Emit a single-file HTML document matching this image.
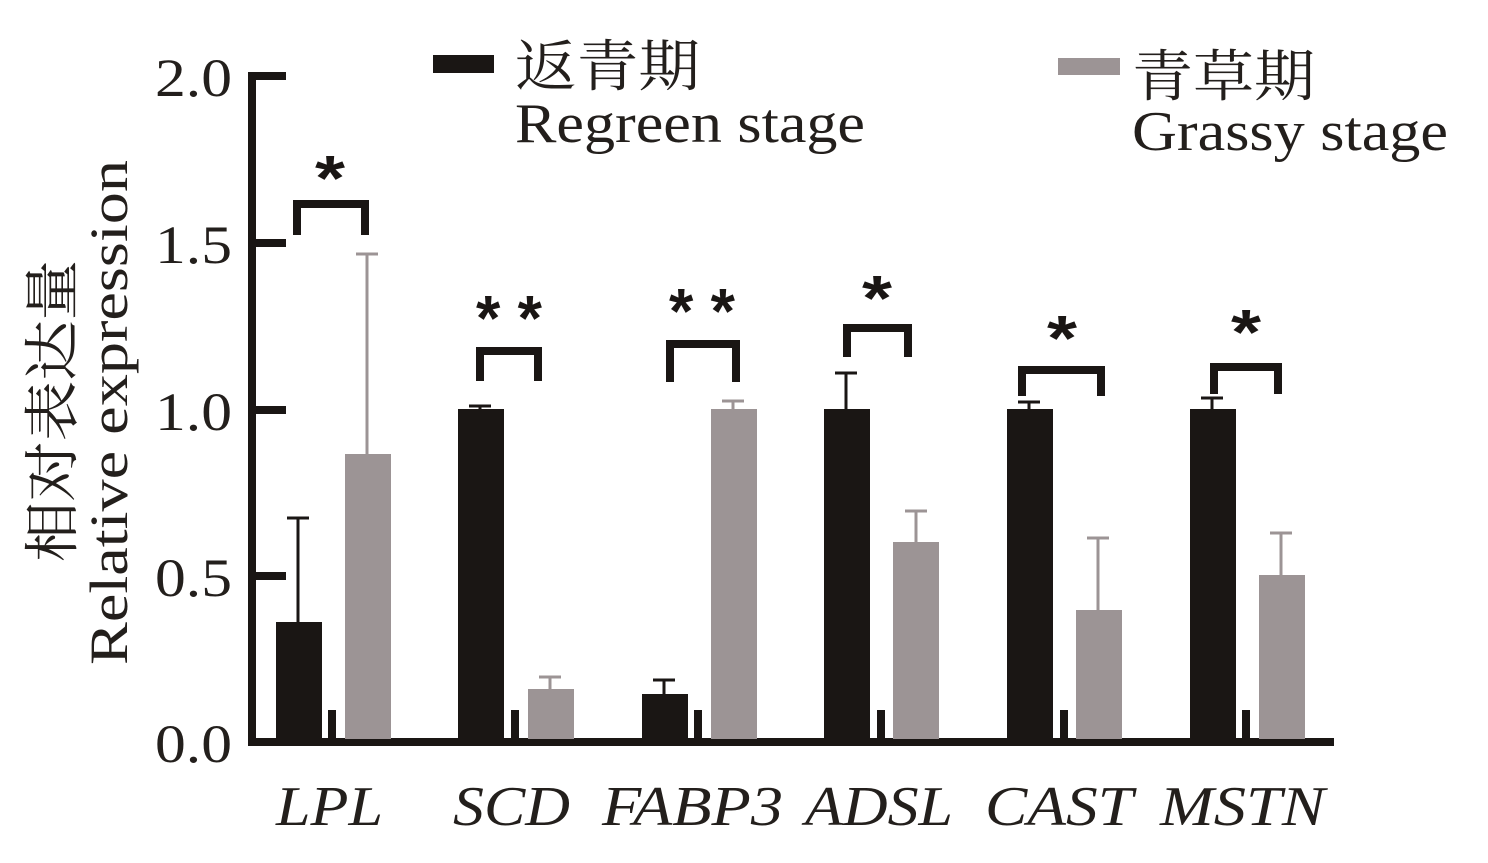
<!DOCTYPE html><html><head><meta charset="utf-8"><style>body{margin:0;background:#fff}svg{display:block}</style></head><body>
<svg width="1488" height="863" xmlns="http://www.w3.org/2000/svg" font-family="Liberation Serif, Noto Serif CJK SC, serif">
<rect width="1488" height="863" fill="#fff"/>
<g fill="#1a1614">
<rect x="248" y="73" width="8" height="673"/>
<rect x="248" y="738" width="1086" height="8"/>
<rect x="248" y="72" width="38" height="8"/><rect x="248" y="239" width="38" height="8"/><rect x="248" y="406" width="38" height="8"/><rect x="248" y="572" width="38" height="8"/>
</g>
<g font-size="54" fill="#231f1c" lengthAdjust="spacingAndGlyphs">
<text x="155" y="96" textLength="77" lengthAdjust="spacingAndGlyphs">2.0</text><text x="155" y="263" textLength="77" lengthAdjust="spacingAndGlyphs">1.5</text><text x="155" y="430" textLength="77" lengthAdjust="spacingAndGlyphs">1.0</text><text x="155" y="596" textLength="77" lengthAdjust="spacingAndGlyphs">0.5</text><text x="155" y="762" textLength="77" lengthAdjust="spacingAndGlyphs">0.0</text>
</g>
<g transform="translate(127,665) rotate(-90)" font-size="54" fill="#231f1c"><text x="0" y="0" textLength="505" lengthAdjust="spacingAndGlyphs">Relative  expression</text></g>
<g transform="translate(72,562) rotate(-90)" font-size="56" fill="#231f1c"><text x="0" y="0" font-family="Noto Serif CJK SC, serif" textLength="302" lengthAdjust="spacingAndGlyphs">相对表达量</text></g>
<g stroke="#1a1614" stroke-width="3">
<line x1="298" y1="622" x2="298" y2="518"/><line x1="287" y1="518" x2="309" y2="518"/>
<line x1="480" y1="409" x2="480" y2="406"/><line x1="469" y1="406" x2="491" y2="406"/>
<line x1="664" y1="695" x2="664" y2="680"/><line x1="653" y1="680" x2="675" y2="680"/>
<line x1="846" y1="409" x2="846" y2="373"/><line x1="835" y1="373" x2="857" y2="373"/>
<line x1="1029" y1="409" x2="1029" y2="402"/><line x1="1018" y1="402" x2="1040" y2="402"/>
<line x1="1212" y1="409" x2="1212" y2="398"/><line x1="1201" y1="398" x2="1223" y2="398"/>
</g>
<g stroke="#9c9495" stroke-width="3">
<line x1="367" y1="454" x2="367" y2="254"/><line x1="356" y1="254" x2="378" y2="254"/>
<line x1="550" y1="689" x2="550" y2="677"/><line x1="539" y1="677" x2="561" y2="677"/>
<line x1="733" y1="409" x2="733" y2="401"/><line x1="722" y1="401" x2="744" y2="401"/>
<line x1="916" y1="542" x2="916" y2="511"/><line x1="905" y1="511" x2="927" y2="511"/>
<line x1="1098" y1="610" x2="1098" y2="538"/><line x1="1087" y1="538" x2="1109" y2="538"/>
<line x1="1281" y1="575" x2="1281" y2="533"/><line x1="1270" y1="533" x2="1292" y2="533"/>
</g>
<g fill="#1a1614">
<rect x="276" y="622" width="46" height="117"/>
<rect x="458" y="409" width="46" height="330"/>
<rect x="642" y="694" width="46" height="45"/>
<rect x="824" y="409" width="46" height="330"/>
<rect x="1007" y="409" width="46" height="330"/>
<rect x="1190" y="409" width="46" height="330"/>
<rect x="328" y="710" width="8" height="36"/><rect x="511" y="710" width="8" height="36"/><rect x="694" y="710" width="8" height="36"/><rect x="877" y="710" width="8" height="36"/><rect x="1060" y="710" width="8" height="36"/><rect x="1242" y="710" width="8" height="36"/>
</g>
<g fill="#9c9495">
<rect x="345" y="454" width="46" height="285"/>
<rect x="528" y="689" width="46" height="50"/>
<rect x="711" y="409" width="46" height="330"/>
<rect x="893" y="542" width="46" height="197"/>
<rect x="1076" y="610" width="46" height="129"/>
<rect x="1259" y="575" width="46" height="164"/>
</g>
<g fill="none" stroke="#1a1614" stroke-width="8">
<polyline points="297,235 297,204 365,204 365,235"/>
<polyline points="480,381 480,351 538,351 538,381"/>
<polyline points="670,382 670,344 736,344 736,382"/>
<polyline points="847,357 847,328 908,328 908,357"/>
<polyline points="1022,396 1022,370 1101,370 1101,396"/>
<polyline points="1214,394 1214,367 1278,367 1278,394"/>
</g>
<g font-family="Liberation Sans, sans-serif" font-weight="bold" font-size="64" fill="#1a1614">
<text x="315" y="200" textLength="30" lengthAdjust="spacingAndGlyphs">*</text>
<text x="476" y="340" textLength="66" lengthAdjust="spacingAndGlyphs">* *</text>
<text x="669" y="333" textLength="66" lengthAdjust="spacingAndGlyphs">* *</text>
<text x="862" y="320" textLength="30" lengthAdjust="spacingAndGlyphs">*</text>
<text x="1047" y="360" textLength="30" lengthAdjust="spacingAndGlyphs">*</text>
<text x="1231" y="354" textLength="30" lengthAdjust="spacingAndGlyphs">*</text>
</g>
<g font-size="56" font-style="italic" fill="#231f1c">
<text x="276" y="825" textLength="107" lengthAdjust="spacingAndGlyphs">LPL</text>
<text x="453" y="825" textLength="117" lengthAdjust="spacingAndGlyphs">SCD</text>
<text x="602" y="825" textLength="181" lengthAdjust="spacingAndGlyphs">FABP3</text>
<text x="805" y="825" textLength="148" lengthAdjust="spacingAndGlyphs">ADSL</text>
<text x="985" y="825" textLength="148" lengthAdjust="spacingAndGlyphs">CAST</text>
<text x="1160" y="825" textLength="165" lengthAdjust="spacingAndGlyphs">MSTN</text>
</g>
<rect x="433" y="55" width="61" height="18" fill="#1a1614"/>
<rect x="1058" y="58" width="62" height="17" fill="#9c9495"/>
<g font-size="56" fill="#231f1c">
<text x="515" y="86" font-family="Noto Serif CJK SC, serif" textLength="185" lengthAdjust="spacingAndGlyphs">返青期</text>
<text x="515" y="142" textLength="350" lengthAdjust="spacingAndGlyphs">Regreen stage</text>
<text x="1132" y="96" font-family="Noto Serif CJK SC, serif" textLength="183" lengthAdjust="spacingAndGlyphs">青草期</text>
<text x="1132" y="150" textLength="316" lengthAdjust="spacingAndGlyphs">Grassy stage</text>
</g>
</svg>
</body></html>
